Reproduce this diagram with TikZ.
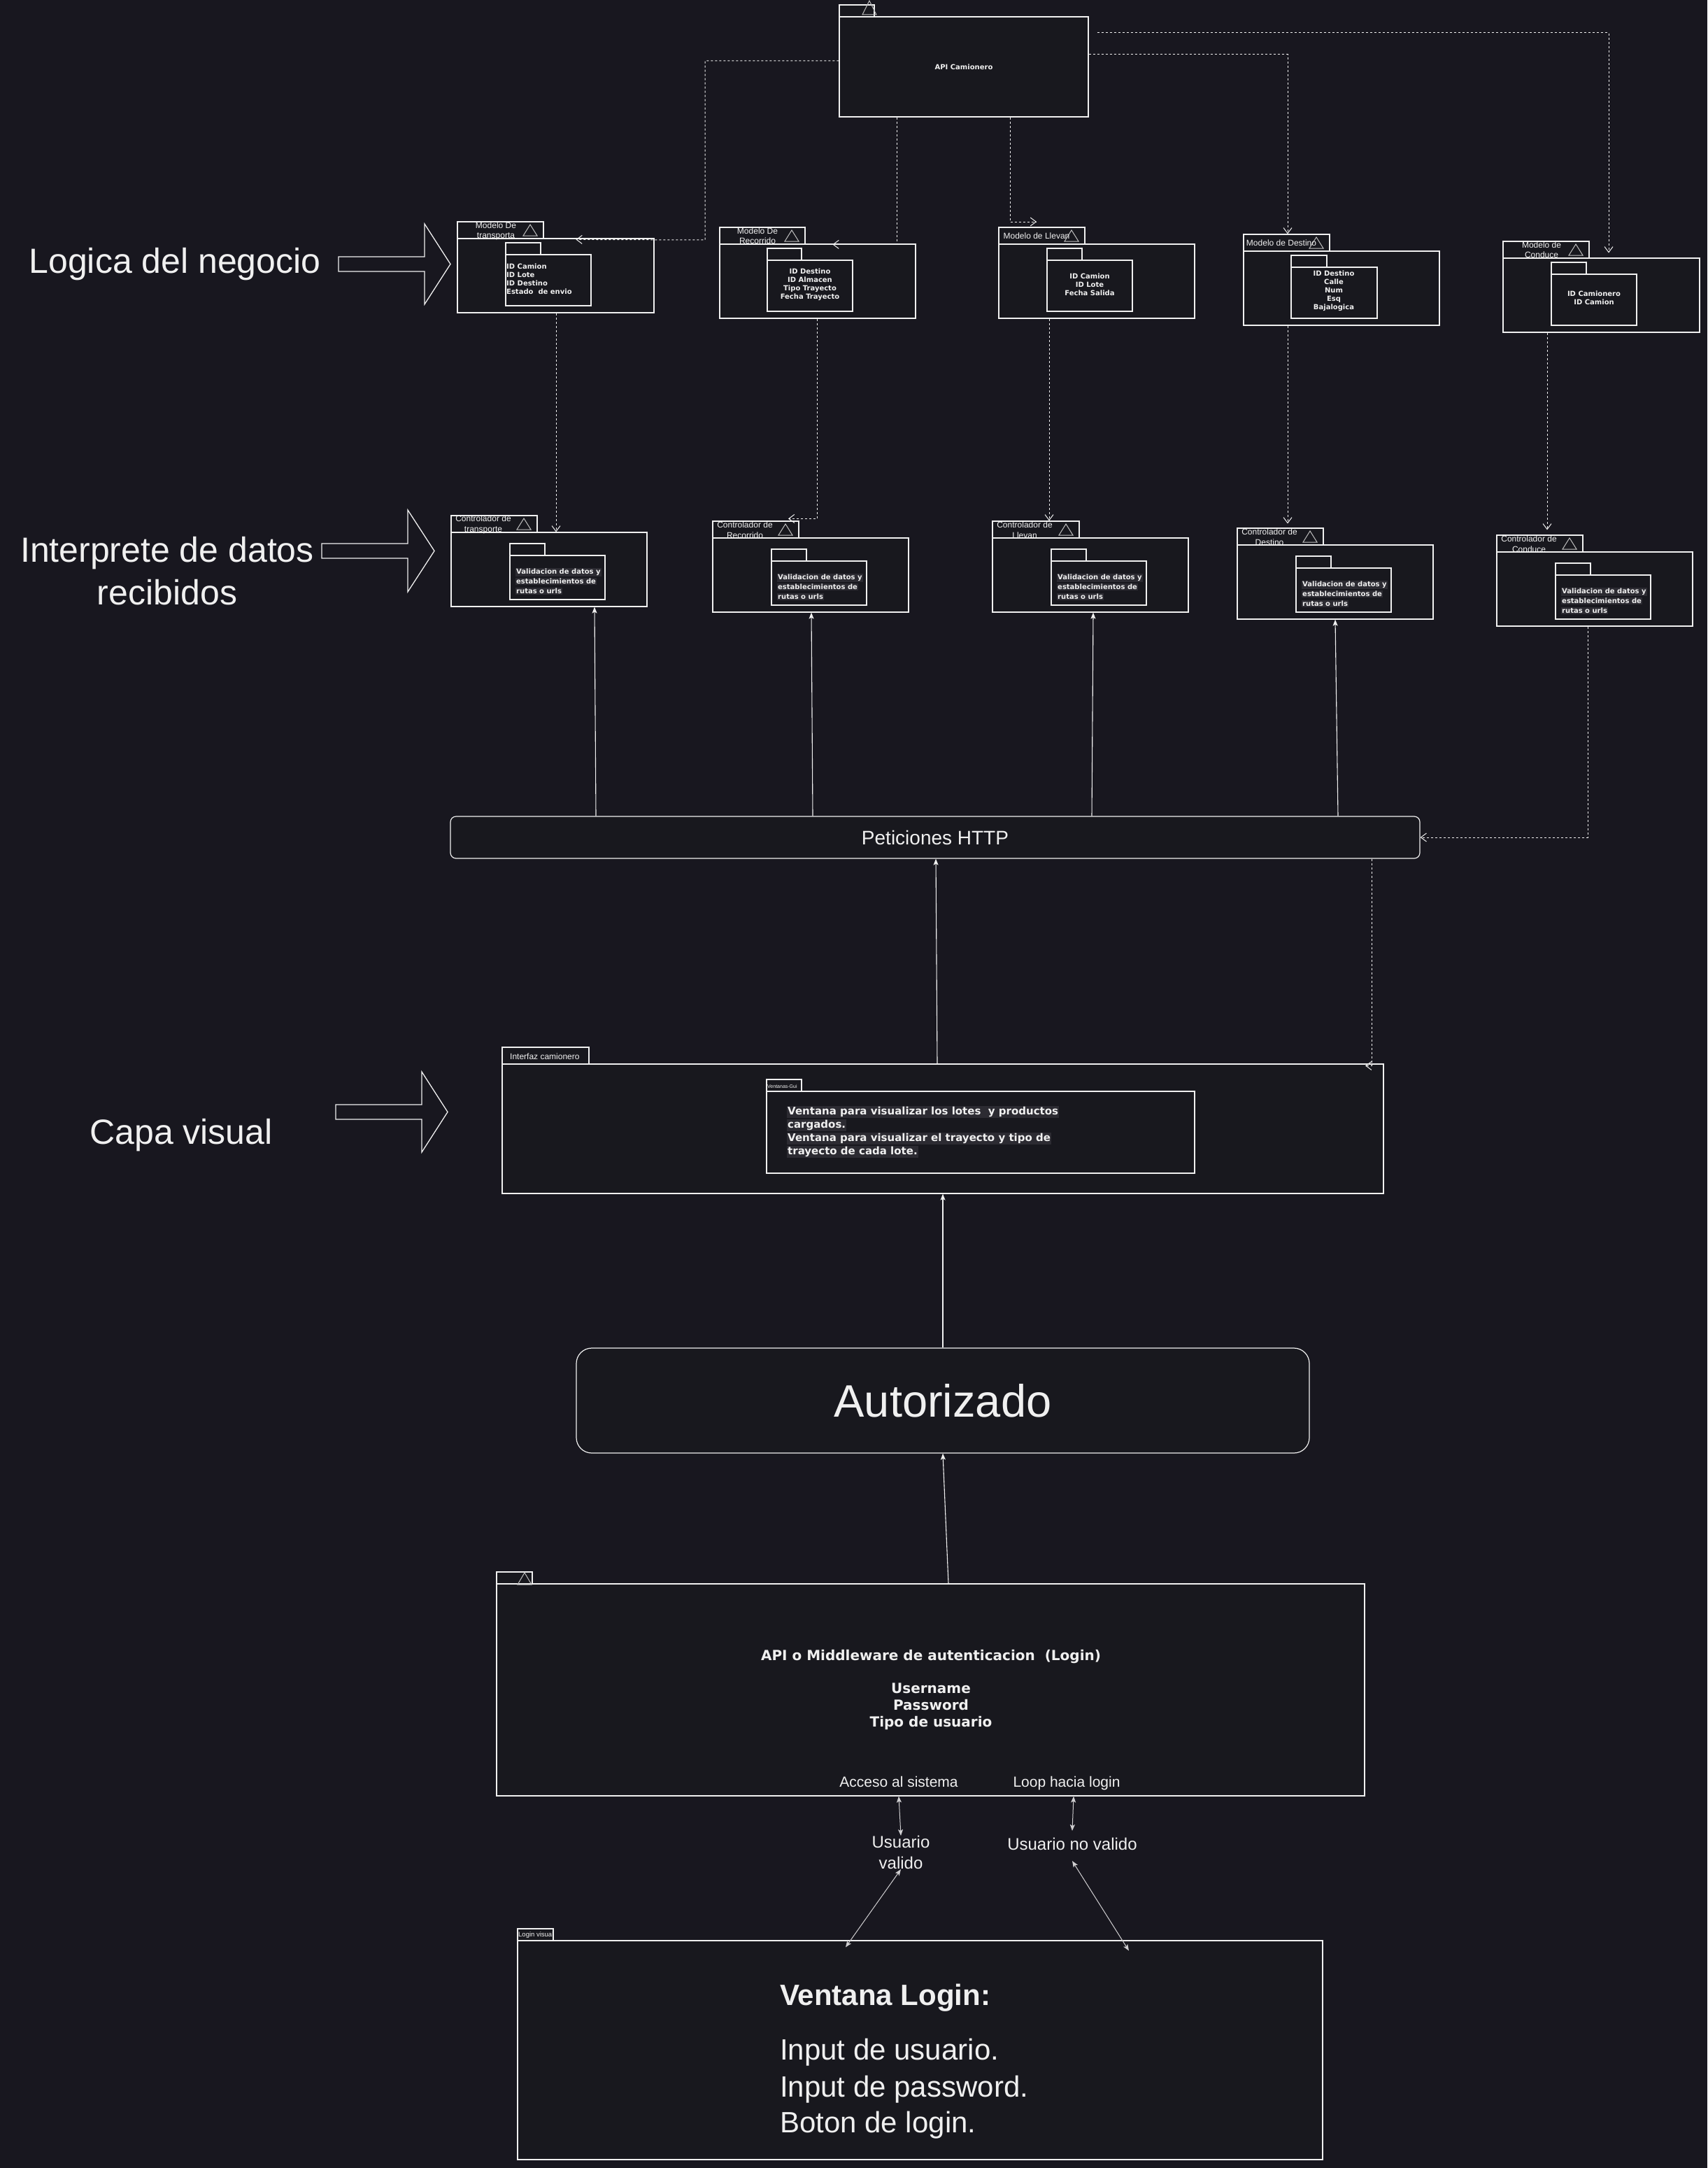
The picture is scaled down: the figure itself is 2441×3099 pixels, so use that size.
\documentclass[tikz,border=0pt]{standalone}
\usepackage{fontspec}
\setmainfont{Liberation Sans}
\newfontfamily\vbfont{DejaVu Sans}
\usetikzlibrary{arrows.meta,fit,calc}
\definecolor{bgc}{RGB}{24,23,31}
\definecolor{boxfill}{RGB}{24,24,30}
\definecolor{ln}{RGB}{240,240,240}
\definecolor{hlc}{RGB}{44,43,50}
\definecolor{trc}{RGB}{190,190,190}
\newcommand\hl[1]{{\setlength{\fboxsep}{1pt}\colorbox{hlc}{#1}}}
\newcommand\fs[2]{\fontsize{#1}{#2}\selectfont}
\newcommand\upkg[7]{%
  \node[pkgbox, fit={(#2,#3) (#7,#4)}] (#1-t) {};
  \node[pkgbox, fit={(#2,#4) (#5,#6)}] (#1) {};
}
\newcommand\utri[3]{\draw[tri] (#1-10,#2) -- (#1,#2-#3) -- (#1+10,#2) -- cycle;}
\tikzset{
 pkgbox/.style={draw=ln, fill=boxfill, line width=1.2pt, inner sep=0pt},
 tri/.style={draw=trc, line width=1pt},
 dashc/.style={draw=ln, line width=1pt, dash pattern=on 3pt off 3pt, -{Straight Barb[length=8pt,width=12pt]}},
 solc/.style={draw=ln, line width=1.1pt, -{Stealth[length=9pt,width=7pt,inset=2pt]}},
 dblc/.style={draw=ln!85!bgc, line width=1pt, {Stealth[length=9pt,width=7pt,inset=2pt]}-{Stealth[length=9pt,width=7pt,inset=2pt]}},
 txt/.style={text=ln, inner sep=0pt},
 tablbl/.style={txt, font=\fs{12}{14}, align=center},
 ctablbl/.style={txt, font=\fs{12}{15}, align=center},
 mtxt/.style={txt, font=\vbfont\bfseries\fs{10}{12}},
 ctxt/.style={txt, font=\vbfont\bfseries\fs{10}{14}, align=left},
 bigarrow/.style={draw=ln, line width=1.3pt, fill=bgc},
 rbox/.style={draw=ln, fill=boxfill, line width=1.2pt, inner sep=0pt, text=ln},
}
\begin{document}
\begin{tikzpicture}[x=1pt,y=-1pt]
\useasboundingbox (0,0) rectangle (2441,3099);
\fill[bgc] (0,0) rectangle (2441,3099);

% ---------- left labels ----------
\node[txt, font=\fs{50}{60}, anchor=base] (lbl1) at (250,390) {Logica del negocio};
\draw[bigarrow] (484,367) -- (607,367) -- (607,320) -- (644,377.5) -- (607,435) -- (607,388) -- (484,388) -- cycle;
\node[txt, font=\fs{50}{60}, anchor=base] (lbl2a) at (239,803) {Interprete de datos};
\node[txt, font=\fs{50}{60}, anchor=base] (lbl2b) at (239,864) {recibidos};
\draw[bigarrow] (460,777) -- (583,777) -- (583,729) -- (621,787.5) -- (583,846) -- (583,798) -- (460,798) -- cycle;
\node[txt, font=\fs{50}{60}, anchor=base] (lbl3) at (259,1635) {Capa visual};
\draw[bigarrow] (480,1579) -- (603,1579) -- (603,1532) -- (640,1589.5) -- (603,1647) -- (603,1600) -- (480,1600) -- cycle;

% ---------- API Camionero ----------
\upkg{api}{1200}{7}{24}{1556}{167}{1250}
\utri{1243}{21}{20}
\node[txt, font=\vbfont\bfseries\fs{10}{12}] (api-x) at (api.center) {API Camionero};

% ---------- Modelos ----------
\upkg{mtr}{654}{317}{341}{935}{447}{777}
\utri{758}{337}{16}
\node[tablbl] (mtr-l) at (709,330) {Modelo De\\transporta};
\upkg{mtri}{723}{347}{364}{845}{437}{773}
\node[mtxt, align=left, anchor=west] (mtr-x) at (724,399) {ID Camion\\ID Lote\\ID Destino\\Estado\ \ de envio};

\upkg{mre}{1029}{325}{349}{1309}{455}{1151}
\utri{1132}{345}{16}
\node[tablbl] (mre-l) at (1083,337) {Modelo De\\Recorrido};
\upkg{mrei}{1097}{355}{372}{1219}{445}{1146}
\node[mtxt, align=center] (mre-x) at (1158,407) {ID Destino\\ID Almacen\\Tipo Trayecto\\Fecha Trayecto};

\upkg{mll}{1428}{325}{349}{1708}{455}{1551}
\utri{1532}{345}{16}
\node[tablbl] (mll-l) at (1482,337) {Modelo de Llevan};
\upkg{mlli}{1497}{355}{372}{1619}{445}{1547}
\node[mtxt, align=center] (mll-x) at (1558,407) {ID Camion\\ID Lote\\Fecha Salida};

\upkg{mde}{1778}{335}{359}{2058}{465}{1901}
\utri{1882}{355}{16}
\node[tablbl] (mde-l) at (1832,347) {Modelo de Destino};
\upkg{mdei}{1846}{365}{382}{1969}{455}{1897}
\node[mtxt, align=center] (mde-x) at (1907,416) {ID Destino\\Calle\\Num\\Esq\\Bajalogica};

\upkg{mco}{2149}{345}{369}{2430}{475}{2272}
\utri{2253}{365}{16}
\node[tablbl] (mco-l) at (2204,357) {Modelo de\\Conduce};
\upkg{mcoi}{2218}{375}{392}{2340}{465}{2268}
\node[mtxt, align=center] (mco-x) at (2279,426) {ID Camionero\\ID Camion};

% ---------- Controladores ----------
\upkg{ctr}{645}{737}{761}{925}{867}{768}
\utri{749}{757}{16}
\node[ctablbl] (ctr-l) at (691,749.5) {Controlador de\\transporte};
\upkg{ctri}{729}{777}{794}{865}{857}{779}
\node[ctxt, anchor=west] (ctr-x) at (737,831) {\hl{Validacion de datos y}\\\hl{establecimientos de}\\\hl{rutas o urls}};

\upkg{cre}{1019}{745}{769}{1299}{875}{1142}
\utri{1123}{765}{16}
\node[ctablbl] (cre-l) at (1065,757.5) {Controlador de\\Recorrido};
\upkg{crei}{1103}{785}{802}{1239}{865}{1153}
\node[ctxt, anchor=west] (cre-x) at (1111,839) {\hl{Validacion de datos y}\\\hl{establecimientos de}\\\hl{rutas o urls}};

\upkg{cll}{1419}{745}{769}{1699}{875}{1543}
\utri{1524}{765}{16}
\node[ctablbl] (cll-l) at (1465,757.5) {Controlador de\\Llevan};
\upkg{clli}{1503}{785}{802}{1639}{865}{1553}
\node[ctxt, anchor=west] (cll-x) at (1511,839) {\hl{Validacion de datos y}\\\hl{establecimientos de}\\\hl{rutas o urls}};

\upkg{cde}{1769}{755}{779}{2049}{885}{1892}
\utri{1873}{775}{16}
\node[ctablbl] (cde-l) at (1815,767.5) {Controlador de\\Destino};
\upkg{cdei}{1853}{795}{812}{1989}{875}{1903}
\node[ctxt, anchor=west] (cde-x) at (1861,849) {\hl{Validacion de datos y}\\\hl{establecimientos de}\\\hl{rutas o urls}};

\upkg{cco}{2140}{765}{789}{2420}{895}{2263}
\utri{2244}{785}{16}
\node[ctablbl] (cco-l) at (2186,777.5) {Controlador de\\Conduce};
\upkg{ccoi}{2224}{805}{822}{2360}{885}{2274}
\node[ctxt, anchor=west] (cco-x) at (2232,859) {\hl{Validacion de datos y}\\\hl{establecimientos de}\\\hl{rutas o urls}};

% ---------- Peticiones HTTP ----------
\node[rbox, rounded corners=8pt, minimum width=1386, minimum height=60, font=\fs{28}{34}] (pet) at (1337,1197) {Peticiones HTTP};

% ---------- Interfaz camionero ----------
\upkg{ifz}{718}{1497}{1521}{1978}{1706}{842}
\node[txt, font=\fs{12}{14}, anchor=west] (ifz-l) at (729,1510) {Interfaz camionero};
\upkg{ifzi}{1096}{1543}{1560}{1708}{1677}{1146}
\node[txt, font=\fs{7}{8}, anchor=west] (ifzi-l) at (1097,1553) {Ventanas-Gui};
\node[txt, font=\vbfont\bfseries\fs{15}{19}, align=left, anchor=west] (ifz-x) at (1125,1618) {\hl{Ventana para visualizar los lotes\ \ y productos}\\\hl{cargados.}\\\hl{Ventana para visualizar el trayecto y tipo de}\\\hl{trayecto de cada lote.}};

% ---------- Autorizado ----------
\node[rbox, rounded corners=22pt, minimum width=1048, minimum height=150, font=\fs{65}{78}] (aut) at (1348,2002) {Autorizado};

% ---------- API Login ----------
\upkg{apl}{710}{2247}{2264}{1951}{2567}{761}
\utri{750}{2265}{17}
\node[txt, font=\vbfont\bfseries\fs{20}{24}, anchor=base] (apl-x) at (1331,2373) {API o Middleware de autenticacion\ \ (Login)};
\node[txt, font=\vbfont\bfseries\fs{20}{24}, anchor=base] (apl-u) at (1331,2420) {Username};
\node[txt, font=\vbfont\bfseries\fs{20}{24}, anchor=base] (apl-p) at (1331,2444) {Password};
\node[txt, font=\vbfont\bfseries\fs{20}{24}, anchor=base] (apl-t) at (1331,2468) {Tipo de usuario};
\node[txt, font=\fs{21}{25}, anchor=base] (acc) at (1285,2554) {Acceso al sistema};
\node[txt, font=\fs{21}{25}, anchor=base] (loop) at (1525,2554) {Loop hacia login};

\node[txt, font=\fs{24}{30}, align=center] (uv) at (1288,2648) {Usuario\\valido};
\node[txt, font=\fs{24}{30}] (unv) at (1533,2636) {Usuario no valido};

% ---------- Login visual ----------
\upkg{lgv}{740}{2757}{2774}{1891}{3087}{791}
\node[txt, font=\fs{9.5}{11}, anchor=west] (lgv-l) at (741,2766) {Login visual};
\node[txt, font=\bfseries\fs{42}{50}, anchor=base west] (lgv-t) at (1115,2866) {Ventana Login:};
\node[txt, font=\fs{42}{52}, anchor=base west] (lgv-1) at (1115,2944) {Input de usuario.};
\node[txt, font=\fs{42}{52}, anchor=base west] (lgv-2) at (1115,2997) {Input de password.};
\node[txt, font=\fs{42}{52}, anchor=base west] (lgv-3) at (1115,3048) {Boton de login.};

% ---------- connectors ----------
\coordinate (llv-in) at (1482,317);
\draw[dashc] (api.west |- 0,87) -| (1008,343) -- ($(mtr.north west)+(170,2)$);
\draw[dashc] (api.south -| 1282,0) |- ($(mre.north west)+(162,1)$);
\draw[dashc] (api.south -| 1444,0) |- (llv-in);
\draw[dashc] (api.east |- 0,78) -| (mde-t.north -| 1841,0);
\draw[dashc] ($(api.east |- 0,47)+(12,0)$) -| ($(mco.north -| 2300,0)+(0,-7)$);

\draw[dashc] (mtr.south -| 795,0) -- (ctr.north -| 795,0);
\draw[dashc] (mre.south -| 1168,0) |- ($(cre-t.north -| 1127,0)+(0,-3)$);
\draw[dashc] (mll.south -| 1500,0) -- (cll-t.north -| 1500,0);
\draw[dashc] (mde.south -| 1841,0) -- ($(cde-t.north -| 1841,0)+(0,-6)$);
\draw[dashc] (mco.south -| 2212,0) -- ($(cco-t.north -| 2212,0)+(0,-7)$);
\draw[dashc] (cco.south -| 2270,0) |- (pet.east);

\draw[solc] (pet.north -| 852,0) -- (ctr.south -| 850,0);
\draw[solc] (pet.north -| 1162,0) -- (cre.south -| 1160,0);
\draw[solc] (pet.north -| 1561,0) -- (cll.south -| 1563,0);
\draw[solc] (pet.north -| 1913,0) -- (cde.south -| 1909,0);
\draw[solc] (ifz.north -| 1340,0) -- (pet.south -| 1338,0);
\draw[dashc] (pet.south -| 1961,0) -- ($(ifz.north -| 1961,0)+(0,3)$) -- ($(ifz.north -| 1952,0)+(0,3)$);
\draw[solc] (aut.north) -- (ifz.south -| aut.north);
\draw[solc] (apl.north -| 1356,0) -- (aut.south);

\draw[dblc] (apl.south -| 1285,0) -- (uv.north);
\draw[dblc] (apl.south -| 1535,0) -- ($(unv.north)+(0,-10)$);
\draw[dblc] (uv.south) -- ($(lgv.north -| 1209,0)+(0,10)$);
\draw[dblc] ($(unv.south)+(0,15)$) -- ($(lgv.north -| 1614,0)+(0,15)$);
\end{tikzpicture}
\end{document}
